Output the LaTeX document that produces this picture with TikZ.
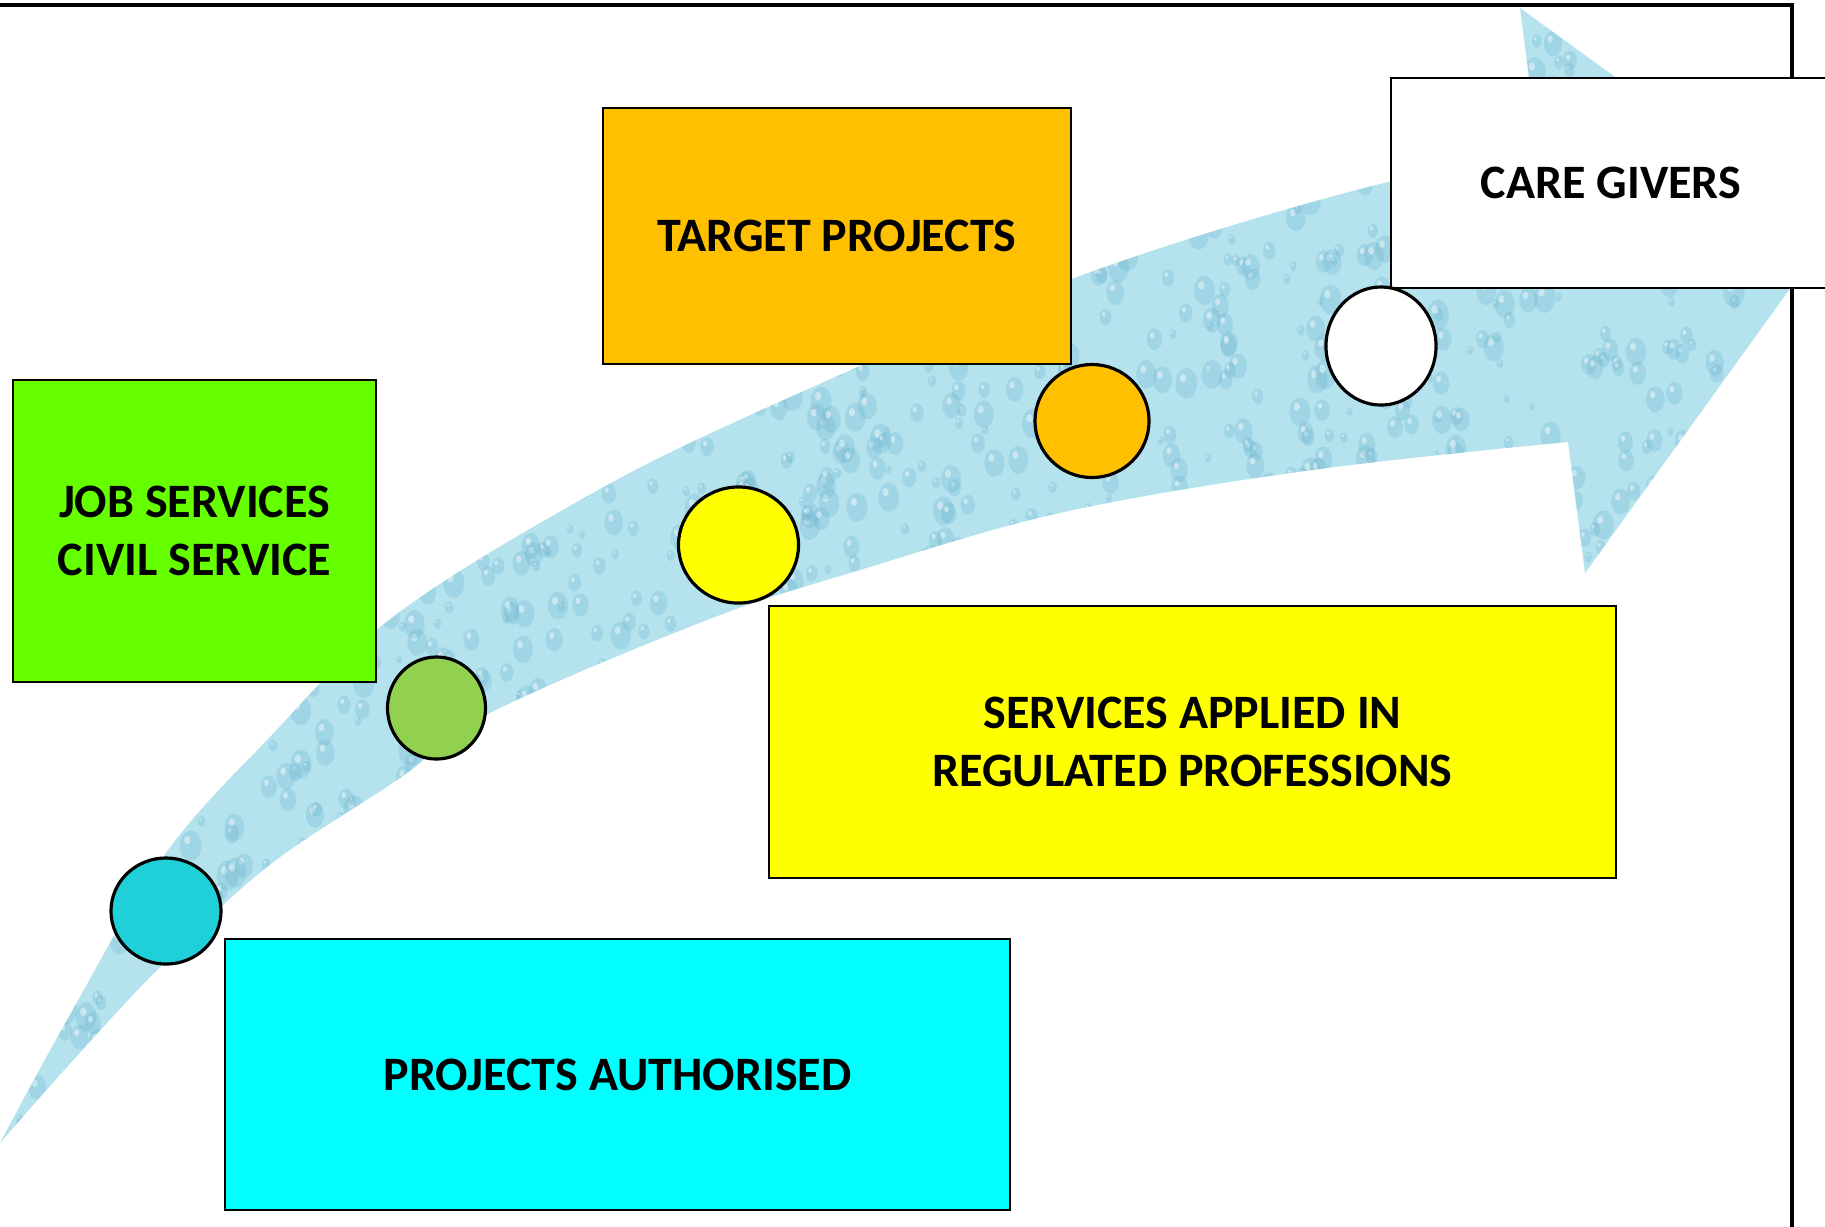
\documentclass[tikz,border=0pt]{standalone}
\usepackage{fontspec}
\setmainfont{Carlito}
\usetikzlibrary{shapes.geometric}

\definecolor{water}{RGB}{180,227,238}
\definecolor{dropblue}{RGB}{112,182,208}
\definecolor{jobgreen}{RGB}{102,255,0}
\definecolor{targetorange}{RGB}{255,192,0}
\definecolor{servyellow}{RGB}{255,255,0}
\definecolor{projcyan}{RGB}{0,255,255}
\definecolor{dotteal}{RGB}{32,208,216}
\definecolor{dotgreen}{RGB}{146,208,80}

% outline of the rising arrow (pixel units)
\newcommand{\wavepath}{plot[smooth, tension=0.6] coordinates{ (0,1143) (67,1020) (163,857) (267,740) (389,620) (568,507) (746,417) (1074,278) (1384,183) (1540,163) }
	-- (1520,8) -- (1830,233) -- (1585,573) -- (1568,442)
	-- plot[smooth, tension=0.6] coordinates{ (1568,442) (1312,470) (1064,512) (860,570) (707,620) (488,714) (400,778) (267,867) (160,967) (67,1067) (0,1143) } -- cycle}

\begin{document}
\begin{tikzpicture}[x=0.01cm,y=-0.01cm,
	stage/.style={draw, line width=0.6pt, inner sep=0pt, align=center, font=\bfseries\fontsize{13.65}{16.6}\selectfont},
	dot/.style={ellipse, draw, line width=0.9pt, inner sep=0pt},
	frame/.style={line width=0.9pt}]

	% Page
	\useasboundingbox (0,0) rectangle (1825,1226);
	\clip (0,0) rectangle (1825,1226);
	\fill[white] (0,0) rectangle (1825,1226);

	% Arrow with drops
	\fill[water] \wavepath;
	\begin{scope}
		\clip \wavepath;
		\pgfmathsetseed{7}
		\foreach \i in {1,...,2400}{
			\pgfmathsetmacro\dx{rnd*1830}
			\pgfmathsetmacro\dy{rnd*1150}
			\pgfmathsetmacro\dr{3+rnd*8}
			\fill[dropblue, opacity=0.3] (\dx,\dy) ellipse [x radius=\dr, y radius=1.4*\dr];
			\fill[white, opacity=0.45] (\dx-0.3*\dr,\dy-0.5*\dr) ellipse [x radius=0.3*\dr, y radius=0.4*\dr];
		}
	\end{scope}

	% Frame
	\draw[frame] (0,5) -- (1792,5) -- (1792,1232);

	% Stages
	\node[stage, fill=jobgreen, minimum width=3.63cm, minimum height=3.02cm] (jobbox) at (194.5,531) {JOB SERVICES\\CIVIL SERVICE};
	\node[stage, fill=targetorange, minimum width=4.68cm, minimum height=2.56cm] (targetbox) at (837,236) {TARGET PROJECTS};
	\node[stage, fill=servyellow, minimum width=8.47cm, minimum height=2.72cm] (servbox) at (1192.5,742) {SERVICES APPLIED IN\\REGULATED PROFESSIONS};
	\node[stage, fill=projcyan, minimum width=7.85cm, minimum height=2.71cm] (projbox) at (617.5,1074.5) {PROJECTS AUTHORISED};
	\node[stage, fill=white, minimum width=4.40cm, minimum height=2.10cm] (carebox) at (1611,183) {CARE GIVERS};

	% Dots
	\node[dot, fill=dotteal, minimum width=1.10cm, minimum height=1.06cm] (d1) at (166,911) {};
	\node[dot, fill=dotgreen, minimum width=0.98cm, minimum height=1.02cm] (d2) at (436.5,708) {};
	\node[dot, fill=servyellow, minimum width=1.20cm, minimum height=1.16cm] (d3) at (738.5,545) {};
	\node[dot, fill=targetorange, minimum width=1.14cm, minimum height=1.13cm] (d4) at (1092,421) {};
	\node[dot, fill=white, minimum width=1.10cm, minimum height=1.18cm] (d5) at (1381,346) {};

\end{tikzpicture}
\end{document}
